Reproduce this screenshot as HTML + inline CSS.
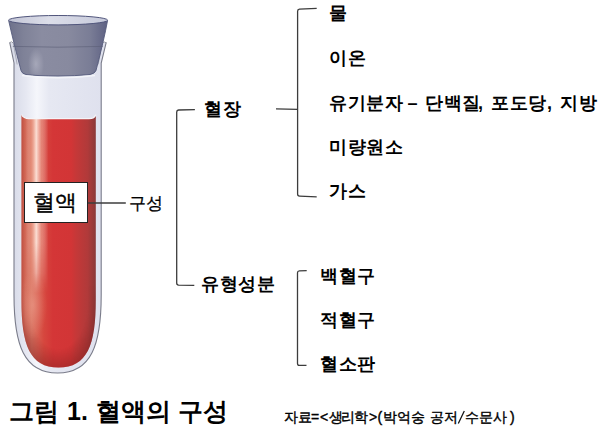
<!DOCTYPE html>
<html><head><meta charset="utf-8">
<style>
html,body{margin:0;padding:0;background:#fff;}
body{width:600px;height:435px;position:relative;overflow:hidden;font-family:"Liberation Sans",sans-serif;color:#000;}
.t{position:absolute;white-space:nowrap;line-height:1;}
.b{font-weight:bold;font-size:18px;letter-spacing:0.6px;}
.cap{font-weight:bold;font-size:25px;}
.src{font-size:14px;-webkit-text-stroke:0.4px #000;}
svg{position:absolute;left:0;top:0;}
</style></head><body>
<svg width="600" height="435" viewBox="0 0 600 435">
<defs>
<linearGradient id="blood" x1="21" x2="97" y1="0" y2="0" gradientUnits="userSpaceOnUse">
<stop offset="0" stop-color="#bd4c3e"/>
<stop offset="0.06" stop-color="#d36a58"/>
<stop offset="0.14" stop-color="#da7462"/>
<stop offset="0.3" stop-color="#d6473e"/>
<stop offset="0.42" stop-color="#d43637"/>
<stop offset="0.66" stop-color="#d23536"/>
<stop offset="0.72" stop-color="#c63838"/>
<stop offset="0.88" stop-color="#b03a3a"/>
<stop offset="1" stop-color="#843737"/>
</linearGradient>
<linearGradient id="hl" x1="21" x2="97" y1="0" y2="0" gradientUnits="userSpaceOnUse">
<stop offset="0.06" stop-color="#ffffff" stop-opacity="0"/>
<stop offset="0.13" stop-color="#f0a890" stop-opacity="0.4"/>
<stop offset="0.2" stop-color="#fde6dc" stop-opacity="0.95"/>
<stop offset="0.27" stop-color="#f4b8a8" stop-opacity="0.5"/>
<stop offset="0.36" stop-color="#ffffff" stop-opacity="0"/>
</linearGradient>
<linearGradient id="hlfade" x1="0" x2="0" y1="115" y2="370" gradientUnits="userSpaceOnUse">
<stop offset="0" stop-color="#fff" stop-opacity="1"/>
<stop offset="0.5" stop-color="#fff" stop-opacity="1"/>
<stop offset="0.62" stop-color="#fff" stop-opacity="0.6"/>
<stop offset="0.7" stop-color="#fff" stop-opacity="0"/>
</linearGradient>
<radialGradient id="lowhl" cx="33" cy="305" r="34" gradientUnits="userSpaceOnUse" gradientTransform="translate(33 305) scale(0.42 1) translate(-33 -305)">
<stop offset="0" stop-color="#f0a896" stop-opacity="0.5"/>
<stop offset="1" stop-color="#ec9c8a" stop-opacity="0"/>
</radialGradient>
<linearGradient id="shfade" x1="0" x2="0" y1="285" y2="340" gradientUnits="userSpaceOnUse"><stop offset="0" stop-color="#fff" stop-opacity="0"/><stop offset="1" stop-color="#fff" stop-opacity="1"/></linearGradient>
<mask id="shmask"><rect x="0" y="100" width="120" height="280" fill="url(#shfade)"/></mask>
<mask id="hlmask"><rect x="0" y="100" width="120" height="280" fill="url(#hlfade)"/></mask>
<radialGradient id="bshade" cx="58.5" cy="300" r="70" gradientUnits="userSpaceOnUse" gradientTransform="translate(58.5 300) scale(0.6 1) translate(-58.5 -300)">
<stop offset="0.7" stop-color="#7a1e1e" stop-opacity="0"/>
<stop offset="1" stop-color="#7a1e1e" stop-opacity="0.45"/>
</radialGradient>
<linearGradient id="glass" x1="14" x2="102" y1="0" y2="0" gradientUnits="userSpaceOnUse">
<stop offset="0" stop-color="#d9dce9"/>
<stop offset="0.14" stop-color="#e6e8f2"/>
<stop offset="0.26" stop-color="#f5f6fb"/>
<stop offset="0.4" stop-color="#e6e8f2"/>
<stop offset="1" stop-color="#dfe1ee"/>
</linearGradient>
<linearGradient id="cap" x1="9" x2="108" y1="0" y2="0" gradientUnits="userSpaceOnUse">
<stop offset="0" stop-color="#6e718b"/>
<stop offset="0.15" stop-color="#7f8298"/>
<stop offset="0.33" stop-color="#8a8ca1"/>
<stop offset="0.6" stop-color="#888a9f"/>
<stop offset="0.82" stop-color="#7a7d96"/>
<stop offset="1" stop-color="#5d6082"/>
</linearGradient>
<radialGradient id="capgl" cx="36" cy="64" r="16" gradientUnits="userSpaceOnUse" gradientTransform="translate(36 64) scale(0.5 1) translate(-36 -64)">
<stop offset="0" stop-color="#c0c1cf" stop-opacity="0.55"/>
<stop offset="1" stop-color="#c0c1cf" stop-opacity="0"/>
</radialGradient>
<linearGradient id="captop" x1="9" x2="108" y1="0" y2="0" gradientUnits="userSpaceOnUse">
<stop offset="0" stop-color="#c3c5d6"/>
<stop offset="0.4" stop-color="#dcdee9"/>
<stop offset="1" stop-color="#c6c9da"/>
</linearGradient>
</defs>
<!-- tube glass -->
<path d="M9.7,42.4 Q11.5,41.6 13.3,42.6 L106.2,42.4 L101.2,63 L101.2,295 C101.2,345 91.2,373 57.6,373 C24,373 14,345 14,295 L14,63 Z" fill="url(#glass)"/>
<path d="M9.7,42.4 L14,63 L14,295 C14,345 24,373 57.6,373 C91.2,373 101.2,345 101.2,295 L101.2,63 L106.2,42.4" fill="none" stroke="#7a7c8a" stroke-width="1.1"/>
<path d="M13.3,43.2 L17.2,64.5" fill="none" stroke="#a4a6b2" stroke-width="0.9"/>
<path d="M9.6,42.8 Q11.4,40.6 13.5,43.2" fill="#f4f5f9" stroke="#8a8c98" stroke-width="0.9"/>
<path d="M102,43.4 L98.2,64.5" fill="none" stroke="#a4a6b2" stroke-width="0.9"/>
<path d="M101.9,43.4 Q104.2,40.8 106.3,42.8" fill="#f4f5f9" stroke="#8a8c98" stroke-width="0.9"/>
<!-- blood -->
<path id="bp" d="M21.4,114.5 Q23.5,118.6 29,118.6 L89,118.6 Q94.8,118.6 95.8,114.5 L95.8,300 C95.8,345 87.2,367.5 58.6,367.5 C30,367.5 21.4,345 21.4,300 Z" fill="url(#blood)"/>
<path d="M21.4,114.5 Q23.5,118.6 29,118.6 L89,118.6 Q94.8,118.6 95.8,114.5 L95.8,300 C95.8,345 87.2,367.5 58.6,367.5 C30,367.5 21.4,345 21.4,300 Z" fill="url(#hl)" mask="url(#hlmask)"/>
<path d="M21.4,114.5 Q23.5,118.6 29,118.6 L89,118.6 Q94.8,118.6 95.8,114.5 L95.8,300 C95.8,345 87.2,367.5 58.6,367.5 C30,367.5 21.4,345 21.4,300 Z" fill="url(#bshade)" mask="url(#shmask)"/>
<path d="M21.4,114.5 Q23.5,118.6 29,118.6 L89,118.6 Q94.8,118.6 95.8,114.5 L95.8,300 C95.8,345 87.2,367.5 58.6,367.5 C30,367.5 21.4,345 21.4,300 Z" fill="url(#lowhl)"/>
<path d="M21.5,114.5 Q23.5,118.6 29,118.6 L89,118.6 Q94.8,118.6 95.8,114.5" fill="none" stroke="#f4f4f8" stroke-width="1.2"/>
<!-- cap -->
<path d="M8.6,20.3 L107.6,20.3 Q104,40 96,70.5 Q95,73.5 90,74.5 Q75,76 58,76 Q38,76 26,74.5 Q22,73.8 21,70.5 Q13,40 8.6,20.3 Z" fill="url(#cap)"/>
<path d="M8.6,20.3 L107.6,20.3 Q104,40 96,70.5 Q95,73.5 90,74.5 Q75,76 58,76 Q38,76 26,74.5 Q22,73.8 21,70.5 Q13,40 8.6,20.3 Z" fill="url(#capgl)"/>
<path d="M8.6,20.3 Q13,40 21,70.5 Q22,73.8 26,74.5 Q38,76 58,76 Q75,76 90,74.5 Q95,73.5 96,70.5 Q104,40 107.6,20.3" fill="none" stroke="#555a7c" stroke-width="0.9"/>
<path d="M12.8,46.4 Q58,48 103,46.4" fill="none" stroke="#5d6078" stroke-width="0.8" opacity="0.8"/>
<ellipse cx="58.1" cy="20.2" rx="49.5" ry="4.7" fill="url(#captop)" stroke="#50557b" stroke-width="1"/>
<path d="M22,75.5 Q58,80 95,75.5" fill="none" stroke="#f6f7fb" stroke-width="1.5" opacity="0.8"/>
<!-- label box -->
<rect x="24.5" y="182.5" width="63" height="40" fill="#fff" stroke="#222" stroke-width="1"/>
<!-- connector lines -->
<g fill="none" stroke="#3c3c3c" stroke-width="1.3">
<path d="M88,203 L125.8,203"/>
<path d="M458.3,423.5 L464.3,411" stroke="#111" stroke-width="1.25"/>
<path d="M194.9,109.6 L178.6,110 Q176.7,110.2 176.7,112 L176.7,283 Q176.7,285 178.6,285.1 L194.3,285.3"/>
<path d="M276,108.9 L297.6,109.4"/>
<path d="M316.7,8.3 L299.5,9.2 Q297.6,9.4 297.6,11.3 L297.6,194 Q297.6,196 299.5,196.1 L316.7,196.9"/>
<path d="M306.7,270.7 L299.4,270.8 Q297.5,270.9 297.5,272.8 L297.5,363.4 Q297.5,365.3 299.4,365.3 L306.5,365.4"/>
</g>
</svg>
<div class="t" style="left:33px;top:192px;font-size:22px;font-family:'Liberation Serif',serif;-webkit-text-stroke:0.35px #000;">혈액</div>
<div class="t" style="left:129px;top:194.5px;font-size:17px;-webkit-text-stroke:0.3px #000;">구성</div>
<div class="t b" style="left:204px;top:100px;">혈장</div>
<div class="t b" style="left:201px;top:275px;">유형성분</div>
<div class="t b" style="left:329px;top:4px;">물</div>
<div class="t b" style="left:329px;top:49px;">이온</div>
<div class="t b" style="left:329px;top:94px;">유기분자</div>
<div class="t b" style="left:407.5px;top:93.5px;">–</div>
<div class="t b" style="left:425px;top:94px;">단백질</div>
<div class="t b" style="left:478px;top:94px;">,</div>
<div class="t b" style="left:491px;top:94px;">포도당</div>
<div class="t b" style="left:547px;top:94px;">,</div>
<div class="t b" style="left:560px;top:94px;">지방</div>
<div class="t b" style="left:329px;top:137.5px;">미량원소</div>
<div class="t b" style="left:329px;top:182px;">가스</div>
<div class="t b" style="left:320px;top:267px;">백혈구</div>
<div class="t b" style="left:320px;top:311px;">적혈구</div>
<div class="t b" style="left:320px;top:355px;">혈소판</div>
<div class="t cap" style="left:9px;top:399px;">그림</div>
<div class="t cap" style="left:67px;top:399px;">1.</div>
<div class="t cap" style="left:96px;top:399px;">혈액의</div>
<div class="t cap" style="left:178px;top:399px;">구성</div>
<div class="t src" style="left:284px;top:410px;">자료</div>
<div class="t src" style="left:311px;top:410px;">=</div>
<div class="t src" style="left:320px;top:410px;">&lt;</div>
<div class="t src" style="left:328.5px;top:410px;letter-spacing:-1.1px;">생리학</div>
<div class="t src" style="left:369px;top:410px;">&gt;</div>
<div class="t src" style="left:377.5px;top:410px;">(</div>
<div class="t src" style="left:383px;top:410px;">박억숭</div>
<div class="t src" style="left:430px;top:410px;">공저</div>

<div class="t src" style="left:465px;top:410px;">수문사</div>
<div class="t src" style="left:510px;top:410px;">)</div>
</body></html>
